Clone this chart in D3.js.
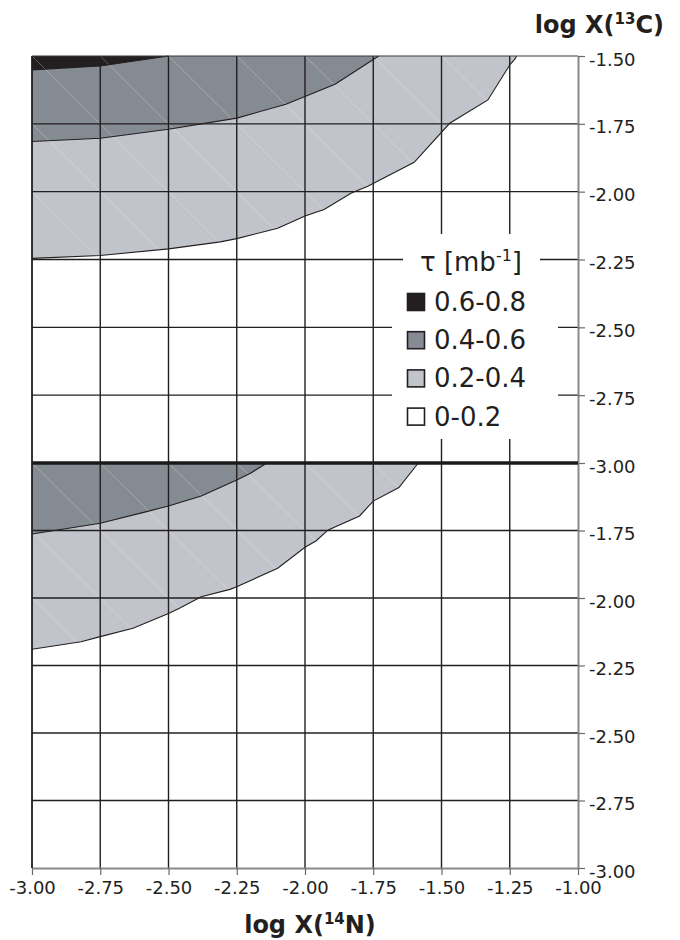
<!DOCTYPE html>
<html>
<head>
<meta charset="utf-8">
<script src="https://cdn.jsdelivr.net/npm/d3@7"></script>
<style>
  html, body { margin: 0; padding: 0; background: #fff; }
  svg { display: block; }
</style>
</head>
<body>
<svg id="chart" width="680" height="940"></svg>
<script>
// ---------------- data ----------------
const xTicks = [-3.00, -2.75, -2.50, -2.25, -2.00, -1.75, -1.50, -1.25, -1.00];
const yTicks = [-1.50, -1.75, -2.00, -2.25, -2.50, -2.75, -3.00];
const levelLabels = ["0.6-0.8", "0.4-0.6", "0.2-0.4", "0-0.2"];
const levelColors = ["#231f20", "#858b92", "#c1c4ca", "#ffffff"];

// Upper panel: contour boundaries [log X(14N), log X(13C)]
const topBlack = [[-3, -1.551], [-2.75, -1.537], [-2.5, -1.5]];
const topDark = [[-3, -1.815], [-2.75, -1.803], [-2.5, -1.77], [-2.25, -1.729], [-2.07, -1.678], [-1.89, -1.604], [-1.73, -1.5]];
const topLight = [[-3, -2.246], [-2.75, -2.235], [-2.5, -2.211], [-2.31, -2.185], [-2.25, -2.173], [-2.10, -2.135], [-2.0, -2.09], [-1.93, -2.066], [-1.83, -2.005], [-1.77, -1.98], [-1.60, -1.892], [-1.47, -1.748], [-1.33, -1.662], [-1.25, -1.533], [-1.23, -1.51], [-1.225, -1.5]];

// Lower panel
const botDark = [[-3, -1.763], [-2.75, -1.723], [-2.58, -1.68], [-2.5, -1.659], [-2.38, -1.622], [-2.25, -1.563], [-2.20, -1.538], [-2.14, -1.5]];
const botLight = [[-3, -2.19], [-2.82, -2.162], [-2.75, -2.143], [-2.63, -2.112], [-2.5, -2.057], [-2.46, -2.038], [-2.38, -1.995], [-2.275, -1.968], [-2.25, -1.958], [-2.10, -1.89], [-2.0, -1.812], [-1.96, -1.789], [-1.915, -1.748], [-1.80, -1.696], [-1.75, -1.641], [-1.656, -1.591], [-1.585, -1.5]];

// ---------------- layout ----------------
const svg = d3.select("#chart");
const left = 32, right = 578;
const x = d3.scaleLinear().domain([-3, -1]).range([left, right]);
const yTop = d3.scaleLinear().domain([-1.5, -3]).range([56, 463]);
const yBot = d3.scaleLinear().domain([-1.5, -3]).range([463, 868]);
const gridColor = "#231f20";

const panels = [
  { y: yTop, regions: [[topLight, 2], [topDark, 1], [topBlack, 0]], light: topLight, id: "t" },
  { y: yBot, regions: [[botLight, 2], [botDark, 1]], light: botLight, id: "b" }
];

const defs = svg.append("defs");

panels.forEach(p => {
  const line = d3.line().x(d => x(d[0])).y(d => p.y(d[1]));
  const poly = b => [[-3, -1.5]].concat(b);
  // clip path for artifacts
  defs.append("clipPath").attr("id", "clip-" + p.id)
    .append("path").attr("d", line(poly(p.light)) + "Z");

  // fills
  p.regions.forEach(([b, li]) => {
    svg.append("path").attr("d", line(poly(b)) + "Z")
      .attr("fill", levelColors[li]).attr("stroke", "none");
  });

  // faint diagonal triangulation artefacts
  const ga = svg.append("g").attr("clip-path", `url(#clip-${p.id})`);
  for (let i = 0; i < xTicks.length - 1; i++) {
    for (let j = 0; j < yTicks.length - 1; j++) {
      ga.append("line")
        .attr("x1", x(xTicks[i])).attr("y1", p.y(yTicks[j]))
        .attr("x2", x(xTicks[i + 1])).attr("y2", p.y(yTicks[j + 1]))
        .attr("stroke", "#ffffff").attr("stroke-opacity", 0.3).attr("stroke-width", 0.9);
    }
  }

  // contour lines
  p.regions.forEach(([b]) => {
    svg.append("path").attr("d", line(b))
      .attr("fill", "none").attr("stroke", gridColor).attr("stroke-width", 1.1);
  });

  // grid
  const g = svg.append("g");
  xTicks.slice(0, -1).forEach(v => {
    g.append("line").attr("x1", x(v)).attr("x2", x(v))
      .attr("y1", p.y(-1.5)).attr("y2", p.y(-3))
      .attr("stroke", gridColor).attr("stroke-width", 1.4);
  });
  yTicks.slice(1, -1).forEach(v => {
    g.append("line").attr("x1", left).attr("x2", right)
      .attr("y1", p.y(v)).attr("y2", p.y(v))
      .attr("stroke", gridColor).attr("stroke-width", 1.4);
  });
});

// top border
svg.append("line").attr("x1", left).attr("x2", right).attr("y1", yTop(-1.5)).attr("y2", yTop(-1.5))
  .attr("stroke", "#3a3a3a").attr("stroke-width", 1.2);

// ---------------- legend ----------------
const lg = svg.append("g");
lg.append("rect").attr("x", 403).attr("y", 234).attr("width", 137).attr("height", 54).attr("fill", "#fff");
lg.append("rect").attr("x", 392).attr("y", 286).attr("width", 166).attr("height", 153).attr("fill", "#fff");
const title = lg.append("text").attr("x", 471).attr("y", 271).attr("text-anchor", "middle")
  .attr("font-family", "DejaVu Sans, sans-serif").attr("font-size", 26).attr("fill", gridColor);
title.append("tspan").text("τ [mb");
title.append("tspan").attr("font-size", 16).attr("dy", -10).text("-1");
title.append("tspan").attr("dy", 10).text("]");

levelLabels.forEach((lab, i) => {
  const b = 311 + i * 38.2;
  lg.append("rect").attr("x", 407.5).attr("y", b - 17.5).attr("width", 17).attr("height", 17)
    .attr("fill", levelColors[i]).attr("stroke", gridColor).attr("stroke-width", 1.6);
  lg.append("text").attr("x", 434).attr("y", b)
    .attr("font-family", "DejaVu Sans, sans-serif").attr("font-size", 26).attr("fill", gridColor)
    .text(lab);
});

// ---------------- axes ----------------
const fmt = d => d.toFixed(2);
function styleAxis(g) {
  g.select(".domain").attr("stroke", "#8a8a8a").attr("stroke-width", 2);
  g.selectAll(".tick line").attr("stroke", "#6a6a6a").attr("stroke-width", 1.2);
  g.selectAll(".tick text").attr("font-family", "DejaVu Sans, sans-serif")
    .attr("font-size", 18).attr("fill", gridColor);
}
const axTop = svg.append("g").attr("transform", `translate(${right},0)`)
  .call(d3.axisRight(yTop).tickValues(yTicks).tickFormat(fmt).tickSize(7).tickSizeOuter(0).tickPadding(4));
styleAxis(axTop);
const axBot = svg.append("g").attr("transform", `translate(${right},0)`)
  .call(d3.axisRight(yBot).tickValues(yTicks.slice(1)).tickFormat(fmt).tickSize(7).tickSizeOuter(0).tickPadding(4));
styleAxis(axBot);
svg.selectAll(".tick text").filter(function () { return this.parentNode.parentNode === axTop.node() || this.parentNode.parentNode === axBot.node(); })
  .attr("dy", "0.5em");

const axX = svg.append("g").attr("transform", `translate(0,${yBot(-3)})`)
  .call(d3.axisBottom(x).tickValues(xTicks).tickFormat(fmt).tickSize(7).tickSizeOuter(0).tickPadding(6));
styleAxis(axX);

// separator between panels
svg.append("line").attr("x1", left).attr("x2", right).attr("y1", yTop(-3)).attr("y2", yTop(-3))
  .attr("stroke", "#1a1a1a").attr("stroke-width", 3.5);
// left border
svg.append("line").attr("x1", left).attr("x2", left).attr("y1", yTop(-1.5)).attr("y2", yBot(-3))
  .attr("stroke", gridColor).attr("stroke-width", 1.4);

// ---------------- axis titles ----------------
function axisTitle(xp, yp, anchor, pre, sup, post) {
  const t = svg.append("text").attr("x", xp).attr("y", yp).attr("text-anchor", anchor)
    .attr("font-family", "DejaVu Sans, sans-serif").attr("font-weight", "bold")
    .attr("font-size", 24).attr("fill", gridColor);
  t.append("tspan").text(pre);
  t.append("tspan").attr("font-size", 15).attr("dy", -9).text(sup);
  t.append("tspan").attr("dy", 9).text(post);
}
axisTitle(664, 33, "end", "log X(", "13", "C)");
axisTitle(310, 933, "middle", "log X(", "14", "N)");
</script>
</body>
</html>
